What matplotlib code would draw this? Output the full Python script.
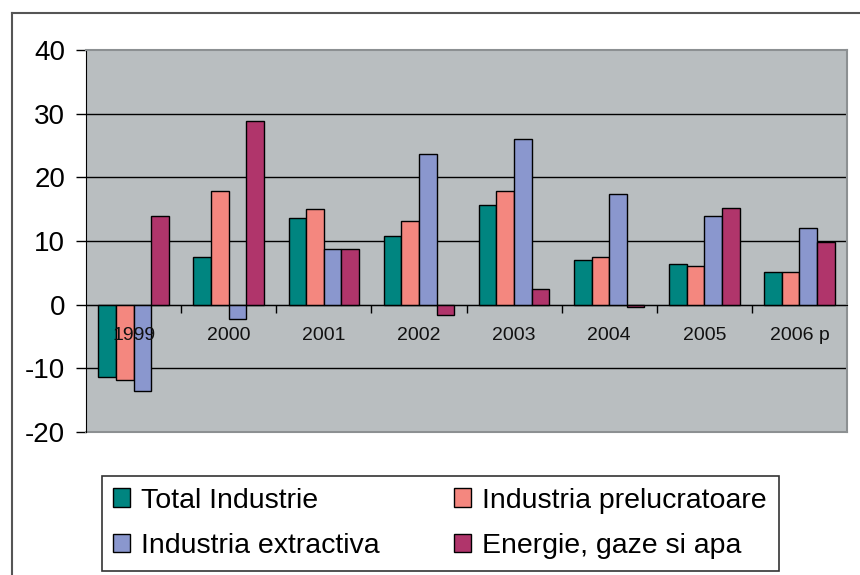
import numpy as np
import matplotlib
matplotlib.use("Agg")
import matplotlib.pyplot as plt
from matplotlib.lines import Line2D

plt.rcParams['font.family'] = ['Liberation Sans', 'DejaVu Sans']
plt.rcParams['axes.unicode_minus'] = False

years = ['1999', '2000', '2001', '2002', '2003', '2004', '2005', '2006 p']
series_names = ['Total Industrie', 'Industria prelucratoare',
                'Industria extractiva', 'Energie, gaze si apa']
total = [-11.4, 7.5, 13.6, 10.8, 15.7, 7.0, 6.4, 5.1]
prelucratoare = [-11.8, 17.8, 15.0, 13.2, 17.8, 7.5, 6.0, 5.1]
extractiva = [-13.6, -2.2, 8.8, 23.7, 26.0, 17.4, 13.9, 12.1]
energie = [13.9, 28.9, 8.8, -1.6, 2.5, -0.4, 15.2, 9.9]
colors = ['#008580', '#F4877F', '#8A97CE', '#B0356B']

fig = plt.figure(figsize=(8.6, 5.75), dpi=100)
ax = fig.add_axes([86 / 860, 1 - 432 / 575, (847 - 86) / 860, (432 - 50) / 575])
ax.set_facecolor('#B9BEC0')

x = np.arange(len(years))
width = 0.185
bars = []
for i, vals in enumerate([total, prelucratoare, extractiva, energie]):
    b = ax.bar(x + (i - 1.5) * width, vals, width, color=colors[i],
               edgecolor='black', linewidth=1, zorder=3, label=series_names[i])
    bars.append(b)

ax.set_xlim(-0.5, len(years) - 0.5)
ax.set_ylim(-20, 40)
ax.set_yticks(range(-20, 41, 10))
for v in range(-10, 40, 10):
    ax.axhline(v, color='black', linewidth=1, zorder=1)

# category axis sits on the zero line
ax.spines['bottom'].set_position(('data', 0))
ax.spines['bottom'].set_color('black')
ax.spines['bottom'].set_zorder(4)
ax.set_xticks(x)
ax.set_xticklabels([])
ax.set_xticks(np.arange(0.5, len(years) - 0.5, 1), minor=True)
ax.tick_params(axis='x', which='major', length=0)
ax.tick_params(axis='x', which='minor', length=6, width=1, direction='out')
# year labels drawn over the bars, as in the original
for xi, yr in zip(x, years):
    ax.text(xi, -4.9, yr, ha='center', va='center', fontsize=14,
            color='#111111', zorder=6)

ax.tick_params(axis='y', length=7, width=1, labelsize=20, pad=8)
ax.spines['left'].set_color('black')
for s in ['top', 'right']:
    ax.spines[s].set_color('#8C9092')
    ax.spines[s].set_linewidth(1.5)
# bottom of plot area
ax.add_line(Line2D([0, 1], [0, 0], transform=ax.transAxes, color='#8C9092',
                   linewidth=1.5, clip_on=False))

handles = [bars[0], bars[2], bars[1], bars[3]]
labels = [series_names[0], series_names[2], series_names[1], series_names[3]]
leg = fig.legend(handles, labels, ncol=2, loc='center',
                 bbox_to_anchor=(440 / 860, 1 - 523.5 / 575), fontsize=20.5,
                 frameon=True, fancybox=False, edgecolor='black',
                 handlelength=0.6, handleheight=0.6, handletextpad=0.4,
                 columnspacing=2.6, labelspacing=0.7, borderpad=0.4,
                 borderaxespad=0)
leg.get_frame().set_linewidth(1.2)

# outer frame of the chart
fig.add_artist(Line2D([12 / 860, 12 / 860], [1 - 13 / 575, 0], color='#555555',
                      linewidth=1.5, transform=fig.transFigure))
fig.add_artist(Line2D([12 / 860, 1], [1 - 13 / 575, 1 - 13 / 575], color='#555555',
                      linewidth=1.5, transform=fig.transFigure))

fig.savefig('out.png', dpi=100)
